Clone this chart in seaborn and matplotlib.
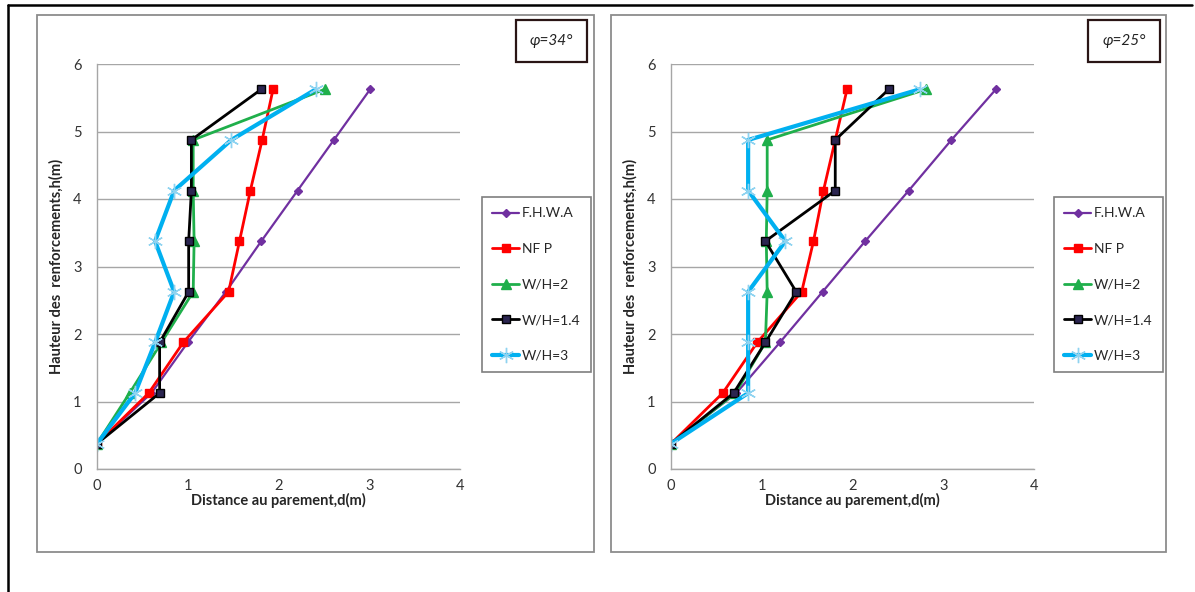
import numpy as np
import pandas as pd
import matplotlib
matplotlib.use("Agg")
import matplotlib.pyplot as plt
from matplotlib.patches import Rectangle
from matplotlib.lines import Line2D
import seaborn as sns

# heights of the reinforcements (m)
heights = [0.375, 1.125, 1.875, 2.625, 3.375, 4.125, 4.875, 5.625]

# phi = 34 deg
fhwa_34 = [0, 0.60, 1.00, 1.42, 1.81, 2.21, 2.61, 3.01]
nfp_34 = [0, 0.57, 0.95, 1.45, 1.57, 1.69, 1.82, 1.94]
wh2_34 = [0, 0.36, 0.71, 1.06, 1.07, 1.06, 1.06, 2.51]
wh14_34 = [0, 0.69, 0.69, 1.01, 1.01, 1.04, 1.04, 1.81]
wh3_34 = [0, 0.42, 0.64, 0.85, 0.64, 0.85, 1.48, 2.41]

# phi = 25 deg
fhwa_25 = [0, 0.72, 1.20, 1.67, 2.14, 2.62, 3.09, 3.58]
nfp_25 = [0, 0.57, 0.95, 1.44, 1.57, 1.68, 1.81, 1.94]
wh2_25 = [0, 0.71, 1.04, 1.06, 1.05, 1.06, 1.06, 2.81]
wh14_25 = [0, 0.69, 1.04, 1.38, 1.04, 1.81, 1.81, 2.40]
wh3_25 = [0, 0.85, 0.85, 0.85, 1.26, 0.85, 0.85, 2.74]

labels = ["F.H.W.A", "NF P", "W/H=2", "W/H=1.4", "W/H=3"]
titles = ["\u03c6=34\u00b0", "\u03c6=25\u00b0"]
panels = [[fhwa_34, nfp_34, wh2_34, wh14_34, wh3_34],
          [fhwa_25, nfp_25, wh2_25, wh14_25, wh3_25]]

styles = [
    dict(color="#7030A0", lw=1.6, marker="D", ms=4.5, mfc="#7030A0", mec="#7030A0"),
    dict(color="#FF0000", lw=2.0, marker="s", ms=6, mfc="#FF0000", mec="#FF0000"),
    dict(color="#1FAF4B", lw=2.0, marker="^", ms=6.5, mfc="#1FAF4B", mec="#1FAF4B"),
    dict(color="#000000", lw=2.0, marker="s", ms=5.5, mfc="#2B2550", mec="#000000"),
    dict(color="#00B0F0", lw=3.0, marker=(6, 2, 0), ms=11, mfc="#8FD3F0", mec="#8FD3F0"),
]

sns.set_style("white")
plt.rcParams["font.family"] = ["Lato", "DejaVu Sans"]

W, H = 1195, 592
fig = plt.figure(figsize=(W / 100, H / 100), dpi=100)

def fx(px):
    return px / W

def fy(py):
    return 1 - py / H

# outer frame (top and left lines)
fig.add_artist(Line2D([fx(8), fx(1192)], [fy(5), fy(5)], color="black", lw=1.8))
fig.add_artist(Line2D([fx(8), fx(8)], [fy(5), fy(592)], color="black", lw=1.8))

ax_left = [97, 671]
box_left = [37, 611]
box_right = [594, 1166]
title_box = [(516, 587), (1088, 1160)]
legend_x = [482, 1054]

for k in range(2):
    # chart frame
    fig.add_artist(Rectangle((fx(box_left[k]), fy(552)), fx(box_right[k] - box_left[k]),
                             (552 - 15) / H, fill=False, ec="#8C8C8C", lw=1.3))

    ax = fig.add_axes([fx(ax_left[k]), fy(469), fx(363), 405 / H])
    for lab, xs, st in zip(labels, panels[k], styles):
        df = pd.DataFrame({"d": xs, "h": heights})
        sns.lineplot(data=df, x="d", y="h", ax=ax, sort=False, estimator=None,
                     color=st["color"], linewidth=st["lw"], marker=st["marker"],
                     markersize=st["ms"], markerfacecolor=st["mfc"],
                     markeredgecolor=st["mec"], markeredgewidth=1.0, label=lab)
    ax.set_xlim(0, 4)
    ax.set_ylim(0, 6)
    ax.set_xticks([0, 1, 2, 3, 4])
    ax.set_yticks([0, 1, 2, 3, 4, 5, 6])
    ax.yaxis.grid(True, color="#A6A6A6", lw=1.0)
    ax.xaxis.grid(False)
    ax.set_axisbelow(True)
    for s in ["top", "right"]:
        ax.spines[s].set_visible(False)
    for s in ["left", "bottom"]:
        ax.spines[s].set_color("#A6A6A6")
        ax.spines[s].set_linewidth(1.0)
    ax.tick_params(axis="both", which="both", direction="out", length=4, width=1.0,
                   color="#A6A6A6", labelsize=10.5, labelcolor="#333333", pad=7)
    ax.tick_params(axis="x", pad=3)
    ax.set_xlabel("Distance au parement,d(m)", fontsize=10.5, fontweight="bold", labelpad=0)
    ax.set_ylabel("Hauteur des  renforcements,h(m)", fontsize=10.5, fontweight="bold", labelpad=7)

    leg = ax.legend(loc="upper left", bbox_to_anchor=(fx(legend_x[k]), fy(197)),
                    bbox_transform=fig.transFigure, borderaxespad=0, fancybox=False,
                    edgecolor="#7F7F7F", fontsize=10, handlelength=1.9,
                    labelspacing=1.7, borderpad=0.75, handletextpad=0.2,
                    framealpha=1)
    leg.get_frame().set_linewidth(1.2)

    # phi box
    x0, x1 = title_box[k]
    fig.add_artist(Rectangle((fx(x0), fy(62)), fx(x1 - x0), 42 / H,
                             fill=False, ec="#2A1515", lw=1.6))
    fig.text(fx((x0 + x1) / 2), fy(41), titles[k], ha="center", va="center",
             fontsize=11, style="italic", color="#222222")

fig.savefig("out.png", dpi=100)
